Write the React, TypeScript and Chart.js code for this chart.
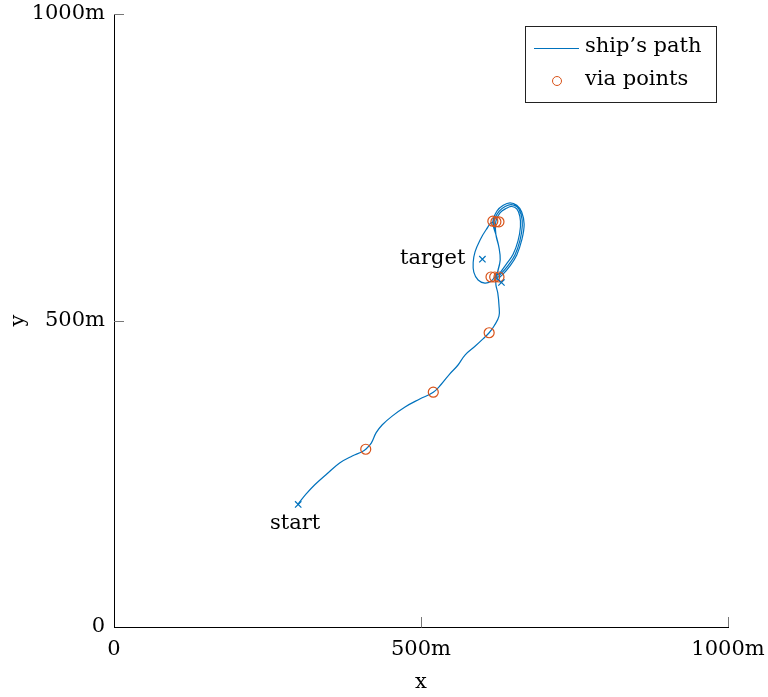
import React, { useEffect, useRef } from "react";
import { Chart, registerables } from "chart.js";

Chart.register(...registerables);

const FONT = "'DejaVu Serif', serif";
const BLUE = "#0072BD";
const ORANGE = "#D95319";

const tickValues = [0, 500, 1000];
const tickLabels = ["0", "500m", "1000m"];

// ship's path (metres)
const pathX = [
  300, 313, 327, 347, 368, 388, 404, 410,
  419, 427, 437, 453, 474, 498, 520,
  533, 547, 560, 572, 588, 601, 611,
  619, 627, 627, 625, 622, 622, 625, 629, 627, 622, 616,
  606, 596, 588, 585, 586, 593, 604, 614, 620,
  625, 629, 627, 622, 617,
  624, 634, 645, 656, 664, 668, 664, 656, 645, 632, 624,
  625, 629, 627, 622, 619,
  627, 637, 647, 657, 663, 665, 661, 653, 642, 630, 623,
  625, 629, 627, 622, 622,
  629, 639, 648, 656, 661, 662, 658, 650, 639, 628, 621, 626, 631,
];
const pathY = [
  201, 217, 232, 250, 268, 279, 286, 290,
  300, 317, 330, 344, 359, 372, 383,
  396, 413, 427, 444, 458, 470, 480,
  491, 507, 525, 545, 558, 570, 580, 599, 619, 640, 660,
  648, 631, 612, 595, 579, 566, 561, 564, 571,
  580, 599, 619, 640, 661,
  679, 688, 692, 688, 677, 657, 631, 607, 589, 574, 569,
  580, 599, 619, 640, 662,
  678, 686, 689, 685, 673, 655, 630, 607, 590, 576, 570,
  580, 599, 619, 640, 662,
  676, 683, 686, 682, 670, 653, 630, 608, 592, 577, 571, 566, 562,
];

const viaX = [410, 520, 611, 614, 620, 627, 617, 622, 627];
const viaY = [290, 383, 480, 571, 571, 571, 662, 661, 661];

const markerX = [300, 600, 631];
const markerY = [200, 600, 562];
const markerText = ["start", "target", ""];

const seriesNames = ["ship’s path", "via points"];

const overlay = {
  id: "overlay",
  afterDraw(chart: any) {
    const { ctx, chartArea } = chart;
    const xs = chart.scales.x;
    const ys = chart.scales.y;
    ctx.save();
    // inward ticks
    ctx.strokeStyle = "#777";
    ctx.lineWidth = 1;
    tickValues.forEach((v) => {
      if (v === 0) return;
      const px = Math.round(xs.getPixelForValue(v)) + 0.5;
      ctx.beginPath();
      ctx.moveTo(px, chartArea.bottom);
      ctx.lineTo(px, chartArea.bottom - 10);
      ctx.stroke();
      const py = Math.round(ys.getPixelForValue(v)) + 0.5;
      ctx.beginPath();
      ctx.moveTo(chartArea.left, py);
      ctx.lineTo(chartArea.left + 10, py);
      ctx.stroke();
    });
    // annotations
    ctx.fillStyle = "#000";
    ctx.font = `21px ${FONT}`;
    const sx = xs.getPixelForValue(markerX[0]);
    const sy = ys.getPixelForValue(markerY[0]);
    ctx.textAlign = "center";
    ctx.textBaseline = "middle";
    ctx.fillText(markerText[0], sx - 3, sy + 19);
    const tx = xs.getPixelForValue(markerX[1]);
    const ty = ys.getPixelForValue(markerY[1]);
    ctx.textAlign = "right";
    ctx.fillText(markerText[1], tx - 17, ty - 1);
    // legend
    const lx = chartArea.right - 203;
    const ly = chartArea.top + 12;
    const lw = 191;
    const lh = 76;
    ctx.fillStyle = "#fff";
    ctx.fillRect(lx, ly, lw, lh);
    ctx.strokeStyle = "#222";
    ctx.strokeRect(lx + 0.5, ly + 0.5, lw, lh);
    ctx.strokeStyle = BLUE;
    ctx.beginPath();
    ctx.moveTo(lx + 9, ly + 22.5);
    ctx.lineTo(lx + 54, ly + 22.5);
    ctx.stroke();
    ctx.strokeStyle = ORANGE;
    ctx.beginPath();
    ctx.arc(lx + 32, ly + 55, 4.5, 0, Math.PI * 2);
    ctx.stroke();
    ctx.fillStyle = "#000";
    ctx.textAlign = "left";
    ctx.textBaseline = "middle";
    ctx.fillText(seriesNames[0], lx + 60, ly + 21);
    ctx.fillText(seriesNames[1], lx + 60, ly + 54);
    ctx.restore();
  },
};

export default function App() {
  const ref = useRef<HTMLCanvasElement>(null);
  useEffect(() => {
    document.body.style.margin = "0";
    const pathData = pathX.map((x, i) => ({ x, y: pathY[i] }));
    const viaData = viaX.map((x, i) => ({ x, y: viaY[i] }));
    const markData = markerX.map((x, i) => ({ x, y: markerY[i] }));
    const axisFont = { family: FONT, size: 21 };
    const chart = new Chart(ref.current!, {
      type: "scatter",
      data: {
        datasets: [
          {
            label: seriesNames[0],
            data: pathData,
            showLine: true,
            borderColor: BLUE,
            borderWidth: 1.2,
            pointRadius: 0,
            tension: 0.4,
            order: 2,
          },
          {
            label: seriesNames[1],
            data: viaData,
            showLine: false,
            borderColor: ORANGE,
            backgroundColor: "rgba(0,0,0,0)",
            borderWidth: 1.2,
            pointRadius: 5,
            pointStyle: "circle",
            order: 1,
          },
          {
            label: "markers",
            data: markData,
            showLine: false,
            borderColor: BLUE,
            borderWidth: 1.2,
            pointRadius: 4.5,
            pointStyle: "crossRot",
            order: 0,
          },
        ] as any,
      },
      options: {
        responsive: false,
        animation: false,
        layout: { padding: { top: 14, right: 40, left: 0, bottom: 0 } },
        plugins: { legend: { display: false }, tooltip: { enabled: false } },
        scales: {
          x: {
            type: "linear",
            min: 0,
            max: 1000,
            afterBuildTicks: (s: any) => {
              s.ticks = tickValues.map((v) => ({ value: v }));
            },
            afterFit: (s: any) => {
              s.height = 70;
              s.paddingLeft = 0;
              s.paddingRight = 0;
            },
            ticks: {
              callback: (v: any) => tickLabels[tickValues.indexOf(Number(v))],
              font: axisFont,
              color: "#000",
              padding: 4,
              maxRotation: 0,
            },
            grid: { display: false, drawTicks: true, tickLength: 6 },
            border: { display: true, color: "#000", width: 1 },
            title: { display: true, text: "x", font: axisFont, color: "#000", padding: { top: 0, bottom: 2 } },
          },
          y: {
            type: "linear",
            min: 0,
            max: 1000,
            afterBuildTicks: (s: any) => {
              s.ticks = tickValues.map((v) => ({ value: v }));
            },
            afterFit: (s: any) => {
              s.width = 114;
              s.paddingTop = 0;
              s.paddingBottom = 0;
            },
            ticks: {
              callback: (v: any) => tickLabels[tickValues.indexOf(Number(v))],
              font: axisFont,
              color: "#000",
              padding: 4,
            },
            grid: { display: false, drawTicks: true, tickLength: 5 },
            border: { display: true, color: "#000", width: 1 },
            title: { display: true, text: "y", font: axisFont, color: "#000", padding: { top: 6, bottom: 0 } },
          },
        },
      } as any,
      plugins: [overlay],
    });
    return () => chart.destroy();
  }, []);
  return <canvas ref={ref} width={768} height={697} style={{ display: "block" }} />;
}
